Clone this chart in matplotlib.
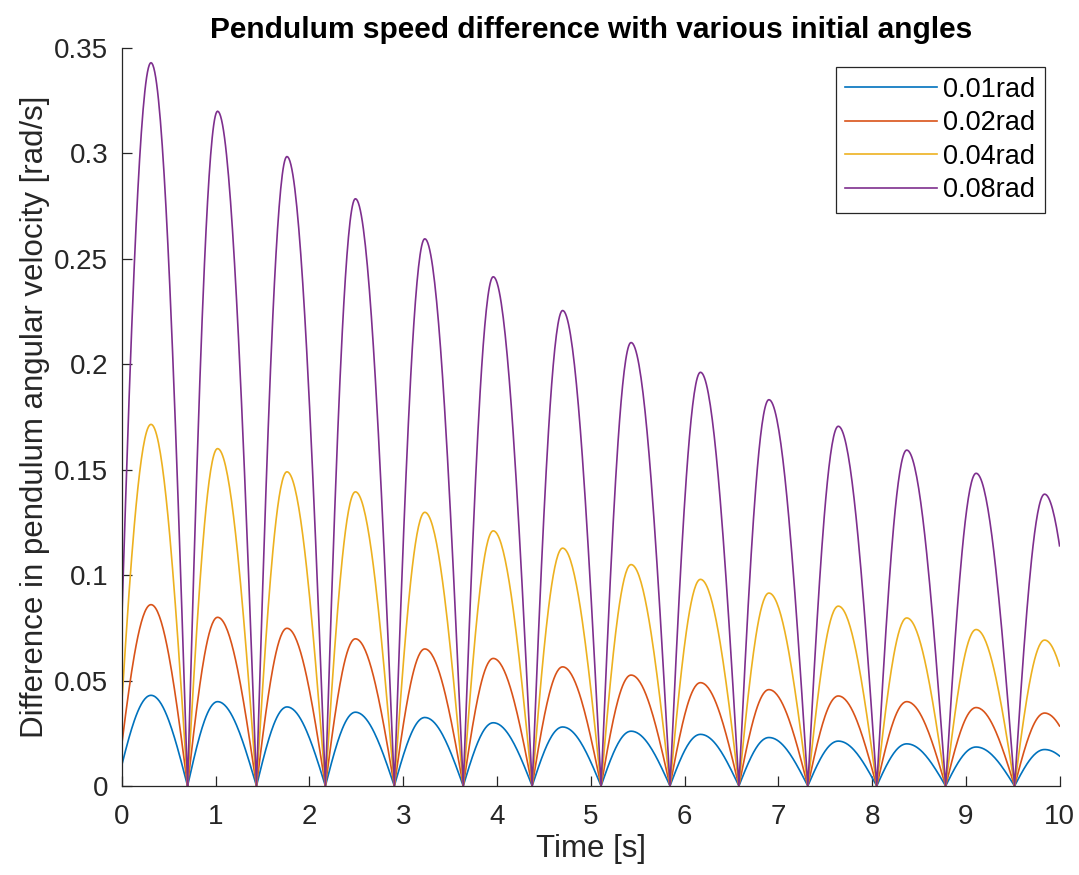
import numpy as np
from matplotlib import pyplot as plt

plt.rcParams['font.family'] = ['Liberation Sans', 'DejaVu Sans']

# values
labels = ["0.01rad", "0.02rad", "0.04rad", "0.08rad"]
colors = ["#0072BD", "#D95319", "#EDB120", "#7E2F8E"]

# times where the speed difference touches zero (first one lies before t=0)
zero_times = [-0.055, 0.70, 1.435, 2.17, 2.905, 3.64, 4.375, 5.11, 5.845,
              6.58, 7.315, 8.05, 8.785, 9.52, 10.255]
peak_times = [0.31, 1.02, 1.76, 2.49, 3.23, 3.96, 4.70, 5.43, 6.17,
              6.90, 7.64, 8.37, 9.11, 9.84]

peaks_001 = [0.043, 0.040, 0.0375, 0.035, 0.0325, 0.030, 0.028, 0.026, 0.0245,
             0.023, 0.0213, 0.020, 0.0185, 0.0173]
peaks_002 = [0.086, 0.080, 0.0748, 0.0698, 0.065, 0.0605, 0.0565, 0.0526, 0.049,
             0.0457, 0.0427, 0.040, 0.0372, 0.0346]
peaks_004 = [0.1715, 0.160, 0.149, 0.1395, 0.1298, 0.121, 0.1128, 0.105, 0.098,
             0.0915, 0.0853, 0.0797, 0.0742, 0.0692]
peaks_008 = [0.343, 0.320, 0.2985, 0.2785, 0.2595, 0.2415, 0.2255, 0.2103, 0.1962,
             0.1832, 0.1706, 0.1593, 0.1483, 0.1384]

all_peaks = [peaks_001, peaks_002, peaks_004, peaks_008]


def lobe_curve(peaks):
    ts, vs = [], []
    for k, p in enumerate(peaks):
        z0, tp, z1 = zero_times[k], peak_times[k], zero_times[k + 1]
        up = np.linspace(z0, tp, 40)
        down = np.linspace(tp, z1, 40)[1:]
        ts.append(up)
        vs.append(p * np.sin(0.5 * np.pi * (up - z0) / (tp - z0)))
        ts.append(down)
        vs.append(p * np.cos(0.5 * np.pi * (down - tp) / (z1 - tp)))
    t = np.concatenate(ts)
    v = np.concatenate(vs)
    keep = (t >= 0) & (t <= 10)
    return t[keep], v[keep]


fig = plt.figure(figsize=(10.79, 8.75), dpi=100)
ax = fig.add_axes([0.113, 0.1017, 0.869, 0.8435])

for peaks, lab, c in zip(all_peaks, labels, colors):
    t, v = lobe_curve(peaks)
    ax.plot(t, v, color=c, linewidth=1.2, label=lab)

ax.set_xlim(0, 10)
ax.set_ylim(0, 0.35)
ax.set_xticks(np.arange(0, 11, 1))
ax.set_yticks(np.arange(0, 0.36, 0.05))
ax.set_yticklabels(["0", "0.05", "0.1", "0.15", "0.2", "0.25", "0.3", "0.35"])

ax.spines["top"].set_visible(False)
ax.spines["right"].set_visible(False)
for s in ["left", "bottom"]:
    ax.spines[s].set_color("#262626")
    ax.spines[s].set_linewidth(0.9)

ax.tick_params(direction="in", labelsize=20, colors="#262626",
               labelcolor="#262626", length=7, width=0.9)
ax.tick_params(axis="x", pad=13)
ax.tick_params(axis="y", pad=10)

ax.set_xlabel("Time [s]", fontsize=22.5, color="#262626", labelpad=3)
ax.set_ylabel("Difference in pendulum angular velocity [rad/s]", fontsize=22.5,
              color="#262626", labelpad=3)
ax.set_title("Pendulum speed difference with various initial angles",
             fontsize=21.5, fontweight="bold", pad=7, color="#000000")

leg = ax.legend(loc="upper right", fontsize=19.5, handlelength=3.4,
                fancybox=False, edgecolor="#262626", framealpha=1,
                borderpad=0.35, labelspacing=0.28, handletextpad=0.2,
                borderaxespad=0, bbox_to_anchor=(0.984, 0.974))
leg.get_frame().set_linewidth(0.9)

plt.savefig("out.png", dpi=100)
plt.close()
